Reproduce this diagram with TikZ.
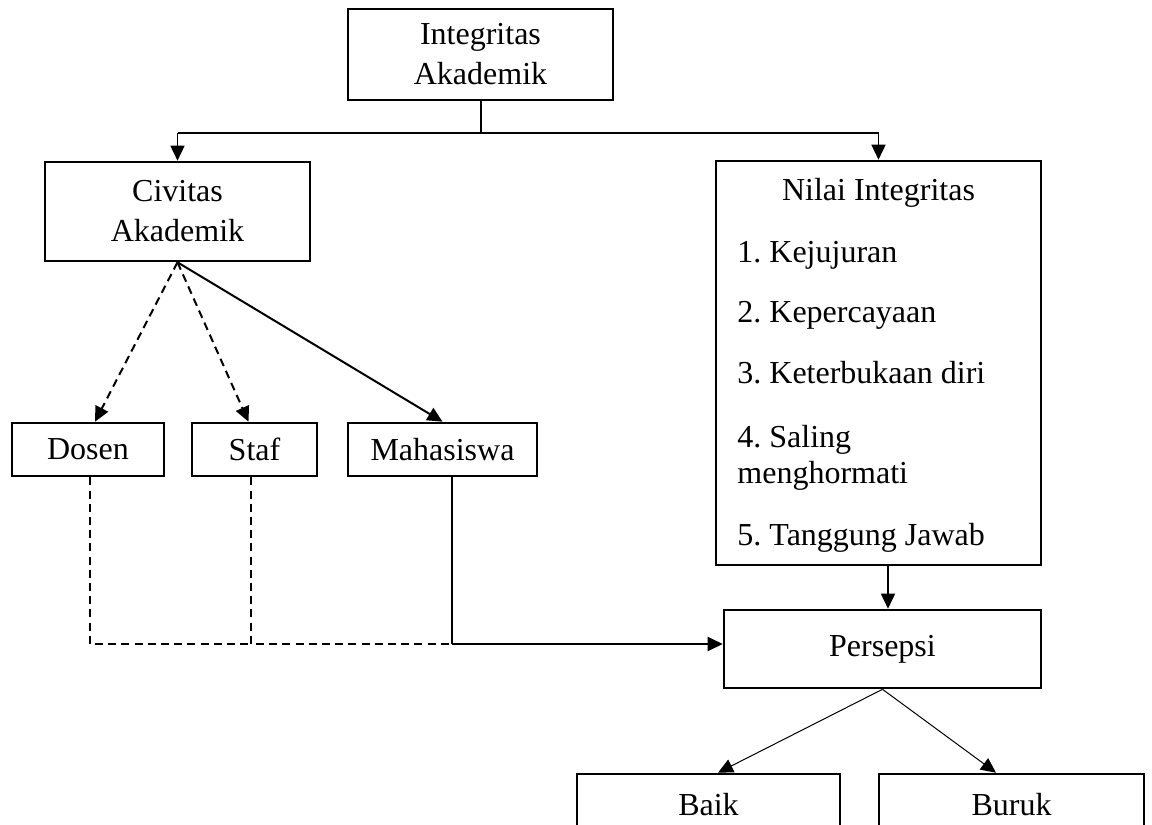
\documentclass[tikz,border=0pt]{standalone}
\usepackage{fontspec}
\setmainfont{Liberation Serif}
\usepackage{tikz}
\usetikzlibrary{arrows.meta,calc}
\frenchspacing
\tikzset{
  box/.style={draw, line width=1.3pt, align=center, inner sep=0pt,
              font=\fontsize{16}{20}\selectfont},
  flow/.style={-{Triangle[length=7.5pt,width=7pt]}, line width=#1},
  flow/.default=1pt,
  dashflow/.style={flow=1pt, dash pattern=on 4pt off 2.6pt},
  link/.style={line width=#1},
  link/.default=1pt,
  item/.style={anchor=base west, align=left, inner sep=0pt,
               font=\fontsize{16}{18}\selectfont}
}

\begin{document}
\begin{tikzpicture}[x=0.5pt, y=-0.5pt]
  \useasboundingbox (0,0) rectangle (1152,825);
  \clip (0,0) rectangle (1152,825);
  % boxes
  \node[box, minimum width=132.5pt, minimum height=45.5pt] (integ) at (480.5,54.5) {Integritas\\Akademik};
  \node[box, minimum width=132.5pt, minimum height=49.5pt] (civ) at (177.5,211.5) {Civitas\\Akademik};
  \node[box, minimum width=162.5pt, minimum height=202pt] (nilai) at (878.5,363) {};
  \node[box, minimum width=76pt, minimum height=26.5pt] (dosen) at (88,449.5) {Dosen};
  \node[box, minimum width=62.5pt, minimum height=26.5pt] (staf) at (254.5,449.5) {Staf};
  \node[box, minimum width=94.5pt, minimum height=26.5pt] (maha) at (442.5,449.5) {Mahasiswa};
  \node[box, minimum width=158.5pt, minimum height=39pt] (persepsi) at (882.5,649) {Persepsi};
  \node[box, minimum width=131.5pt, minimum height=31pt] (baik) at (708.5,805) {Baik};
  \node[box, minimum width=132.5pt, minimum height=31pt] (buruk) at (1011.5,805) {Buruk};
  % isi nilai integritas
  \node[item, anchor=base] (ntitle) at (878.5,200) {Nilai Integritas};
  \foreach \y/\t [count=\i] in {262/1. Kejujuran, 322/2. Kepercayaan,
      383/3. Keterbukaan diri, 483/{4. Saling\\menghormati}, 545/5. Tanggung Jawab}
    \node[item] (item\i) at (737,\y) {\t};
  % titik bantu
  \coordinate (bus) at (0,133);
  \coordinate (dj) at (90,644);
  \coordinate (sj) at (251,644);
  \coordinate (mj) at (452,644);
  % garis atas
  \draw[link] (integ.south) -- (integ.south |- bus);
  \draw[link=1.3pt] (civ.north |- bus) -- (nilai.north |- bus);
  \draw[flow=0.8pt] (civ.north |- bus) -- (civ.north);
  \draw[flow=0.8pt] (nilai.north |- bus) -- (nilai.north);
  % civitas ke bawah
  \draw[dashflow] (civ.south) -- ($(dosen.north)+(7,0)$);
  \draw[dashflow] (civ.south) -- ($(staf.north)+(-6,0)$);
  \draw[flow] (civ.south) -- (maha.north);
  % gabungan ke persepsi
  \draw[link, dash pattern=on 4pt off 2.6pt] (dosen.south -| dj) -- (dj) -- (sj);
  \draw[link, dash pattern=on 4pt off 2.6pt] (staf.south -| sj) -- (sj) -- (mj);
  \draw[link=1.2pt] (maha.south -| mj) -- (mj);
  \draw[flow=1.2pt] (mj) -- (persepsi.west |- mj);
  \draw[flow=0.8pt] ($(nilai.south)+(9.5,0)$) -- ($(persepsi.north)+(5.5,0)$);
  % hasil
  \draw[flow=0.5pt] (persepsi.south) -- ($(baik.north)+(9.5,0)$);
  \draw[flow=0.5pt] (persepsi.south) -- ($(buruk.north)+(-15.5,0)$);
\end{tikzpicture}
\end{document}
